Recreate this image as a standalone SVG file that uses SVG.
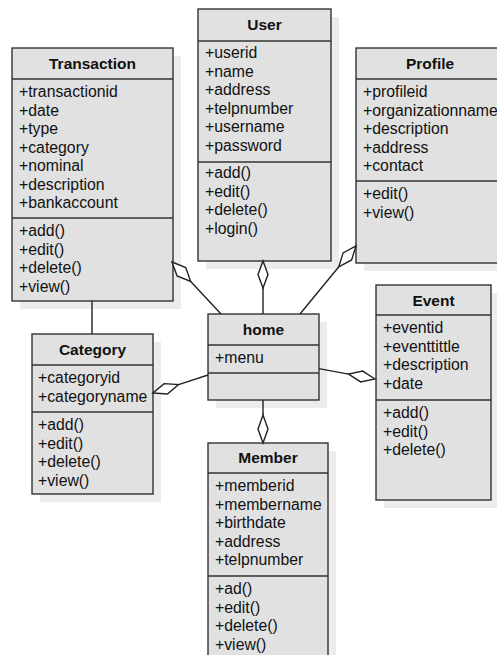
<svg xmlns="http://www.w3.org/2000/svg" width="497" height="655" viewBox="0 0 497 655">
<style>
.sh{fill:#ececec;stroke:none}
.bx{fill:#e1e1e1;stroke:#333;stroke-width:1.4}
.sep{stroke:#333;stroke-width:1.4}
.t{font-family:"Liberation Sans",Arial,sans-serif;font-size:15.5px;font-weight:bold;fill:#111;text-anchor:middle}
.a{font-family:"Liberation Sans",Arial,sans-serif;font-size:15.8px;fill:#111}
.ln{fill:none;stroke:#222;stroke-width:1.4}
.dm{fill:#fff;stroke:#222;stroke-width:1.4}
</style>
<rect width="497" height="655" fill="#fff"/>
<g id="shadows">
<rect class="sh" x="20" y="56" width="161" height="253"/>
<rect class="sh" x="206" y="17" width="133" height="252"/>
<rect class="sh" x="364" y="56" width="148" height="215"/>
<rect class="sh" x="40" y="342" width="121" height="160"/>
<rect class="sh" x="216" y="322" width="111" height="86"/>
<rect class="sh" x="384" y="293" width="115" height="215"/>
<rect class="sh" x="216" y="451" width="120" height="220"/>
</g>
<g id="transaction">
<rect class="bx" x="12" y="48" width="161" height="253"/>
<line class="sep" x1="12" y1="79" x2="173" y2="79"/>
<line class="sep" x1="12" y1="218" x2="173" y2="218"/>
<text class="t" x="92.5" y="69">Transaction</text>
<text class="a" x="19" y="97">+transactionid</text>
<text class="a" x="19" y="115.5">+date</text>
<text class="a" x="19" y="134">+type</text>
<text class="a" x="19" y="152.5">+category</text>
<text class="a" x="19" y="171">+nominal</text>
<text class="a" x="19" y="189.5">+description</text>
<text class="a" x="19" y="208">+bankaccount</text>
<text class="a" x="19" y="236">+add()</text>
<text class="a" x="19" y="254.5">+edit()</text>
<text class="a" x="19" y="273">+delete()</text>
<text class="a" x="19" y="291.5">+view()</text>
</g>
<g id="user">
<rect class="bx" x="198" y="9" width="133" height="252"/>
<line class="sep" x1="198" y1="41" x2="331" y2="41"/>
<line class="sep" x1="198" y1="162" x2="331" y2="162"/>
<text class="t" x="264.5" y="30">User</text>
<text class="a" x="205" y="58">+userid</text>
<text class="a" x="205" y="76.5">+name</text>
<text class="a" x="205" y="95">+address</text>
<text class="a" x="205" y="113.5">+telpnumber</text>
<text class="a" x="205" y="132">+username</text>
<text class="a" x="205" y="150.5">+password</text>
<text class="a" x="205" y="178">+add()</text>
<text class="a" x="205" y="196.5">+edit()</text>
<text class="a" x="205" y="215">+delete()</text>
<text class="a" x="205" y="233.5">+login()</text>
</g>
<g id="profile">
<rect class="bx" x="356" y="48" width="148" height="215"/>
<line class="sep" x1="356" y1="79" x2="504" y2="79"/>
<line class="sep" x1="356" y1="181" x2="504" y2="181"/>
<text class="t" x="430" y="69">Profile</text>
<text class="a" x="363" y="97">+profileid</text>
<text class="a" x="363" y="115.5">+organizationname</text>
<text class="a" x="363" y="134">+description</text>
<text class="a" x="363" y="152.5">+address</text>
<text class="a" x="363" y="171">+contact</text>
<text class="a" x="363" y="199">+edit()</text>
<text class="a" x="363" y="217.5">+view()</text>
</g>
<g id="category">
<rect class="bx" x="32" y="334" width="121" height="160"/>
<line class="sep" x1="32" y1="365" x2="153" y2="365"/>
<line class="sep" x1="32" y1="412" x2="153" y2="412"/>
<text class="t" x="92.5" y="355">Category</text>
<text class="a" x="38" y="383">+categoryid</text>
<text class="a" x="38" y="401.5">+categoryname</text>
<text class="a" x="38" y="430">+add()</text>
<text class="a" x="38" y="448.5">+edit()</text>
<text class="a" x="38" y="467">+delete()</text>
<text class="a" x="38" y="485.5">+view()</text>
</g>
<g id="home">
<rect class="bx" x="208" y="314" width="111" height="86"/>
<line class="sep" x1="208" y1="345" x2="319" y2="345"/>
<line class="sep" x1="208" y1="373" x2="319" y2="373"/>
<text class="t" x="263.5" y="335">home</text>
<text class="a" x="215" y="363">+menu</text>
</g>
<g id="event">
<rect class="bx" x="376" y="285" width="115" height="215"/>
<line class="sep" x1="376" y1="315" x2="491" y2="315"/>
<line class="sep" x1="376" y1="400" x2="491" y2="400"/>
<text class="t" x="433.5" y="306">Event</text>
<text class="a" x="383" y="333">+eventid</text>
<text class="a" x="383" y="351.5">+eventtittle</text>
<text class="a" x="383" y="370">+description</text>
<text class="a" x="383" y="388.5">+date</text>
<text class="a" x="383" y="418">+add()</text>
<text class="a" x="383" y="436.5">+edit()</text>
<text class="a" x="383" y="455">+delete()</text>
</g>
<g id="member">
<rect class="bx" x="208" y="443" width="120" height="220"/>
<line class="sep" x1="208" y1="473" x2="328" y2="473"/>
<line class="sep" x1="208" y1="576" x2="328" y2="576"/>
<text class="t" x="268" y="463">Member</text>
<text class="a" x="215" y="491">+memberid</text>
<text class="a" x="215" y="509.5">+membername</text>
<text class="a" x="215" y="528">+birthdate</text>
<text class="a" x="215" y="546.5">+address</text>
<text class="a" x="215" y="565">+telpnumber</text>
<text class="a" x="215" y="594">+ad()</text>
<text class="a" x="215" y="612.5">+edit()</text>
<text class="a" x="215" y="631">+delete()</text>
<text class="a" x="215" y="649.5">+view()</text>
</g>
<g id="connectors">
<line class="ln" x1="92" y1="301" x2="92" y2="334"/>
<line class="ln" x1="190.7" y1="281.5" x2="221" y2="314"/>
<polygon class="dm" points="172,262 185.7,267.5 190.7,281.5 177.1,275.9"/>
<line class="ln" x1="263" y1="288" x2="263" y2="314"/>
<polygon class="dm" points="263,261 268,274.5 263,288 258,274.5"/>
<line class="ln" x1="338.8" y1="266.8" x2="300" y2="314"/>
<polygon class="dm" points="356,246 351.6,259.9 338.8,266.8 343.1,252.9"/>
<line class="ln" x1="178.6" y1="384.6" x2="208" y2="375"/>
<polygon class="dm" points="153,393 167.5,394 178.6,384.6 164.1,383.6"/>
<line class="ln" x1="348.5" y1="374.1" x2="319" y2="368.6"/>
<polygon class="dm" points="375,379 362.7,371.1 348.5,374.1 360.7,381.9"/>
<line class="ln" x1="263" y1="400" x2="263" y2="415"/>
<polygon class="dm" points="263,443 268,429 263,415 258,429"/>
</g>
</svg>
